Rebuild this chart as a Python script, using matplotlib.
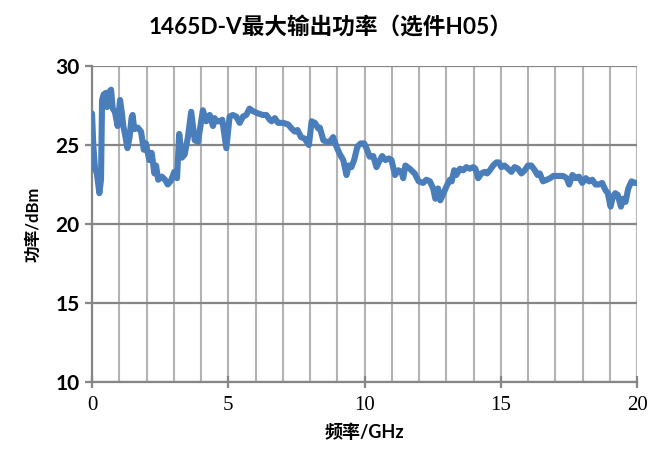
import matplotlib
matplotlib.use("Agg")
import matplotlib.pyplot as plt
from matplotlib.ticker import MultipleLocator

plt.rcParams['font.family'] = ['Lato', 'Noto Sans CJK SC', 'DejaVu Sans']

title = "1465D-V最大输出功率（选件H05）"
xlabel = "频率/GHz"
ylabel = "功率/dBm"

freq_ghz = [0.0, 0.05, 0.11, 0.18, 0.27, 0.33, 0.37, 0.43, 0.51, 0.55, 0.60, 0.70, 0.76, 0.84, 0.94,
            1.03, 1.09, 1.15, 1.22, 1.30, 1.38, 1.45, 1.49, 1.55, 1.68, 1.80, 1.90, 1.98,
            2.10, 2.19, 2.29, 2.35, 2.43, 2.56, 2.68, 2.78, 2.90, 3.02, 3.12, 3.20, 3.30, 3.40,
            3.52, 3.64, 3.77, 3.89, 4.07, 4.19, 4.32, 4.44, 4.50, 4.58, 4.70, 4.78, 4.93,
            5.05, 5.17, 5.29, 5.42, 5.54, 5.66, 5.78, 5.90, 6.09, 6.27, 6.40, 6.52, 6.59, 6.71,
            6.83, 7.02, 7.20, 7.32, 7.44, 7.54, 7.67, 7.81, 7.96, 8.06, 8.18, 8.30, 8.36, 8.49,
            8.61, 8.73, 8.85, 8.97, 9.10, 9.22, 9.34, 9.42, 9.52, 9.62, 9.74, 9.86, 9.99,
            10.07, 10.19, 10.32, 10.44, 10.52, 10.65, 10.77, 10.90, 10.99, 11.12, 11.24, 11.36,
            11.42, 11.50, 11.66, 11.84, 11.99, 12.15, 12.27, 12.40, 12.52, 12.60, 12.70, 12.78,
            12.89, 13.00, 13.13, 13.20, 13.29, 13.37, 13.50, 13.62, 13.74, 13.86, 13.99, 14.07,
            14.17, 14.29, 14.41, 14.50, 14.60, 14.72, 14.84, 14.93, 15.02, 15.14, 15.27, 15.39,
            15.51, 15.63, 15.76, 15.88, 16.00, 16.12, 16.25, 16.35, 16.43, 16.55, 16.69, 16.81,
            16.93, 17.11, 17.29, 17.42, 17.51, 17.63, 17.75, 17.87, 17.99, 18.12, 18.24, 18.36,
            18.48, 18.60, 18.72, 18.84, 18.93, 19.03, 19.11, 19.20, 19.29, 19.41, 19.49, 19.58,
            19.68, 19.80, 19.92, 20.0]

power_dbm = [27.0, 24.9, 23.5, 23.2, 21.95, 22.8, 27.85, 28.2, 28.3, 27.4, 28.3, 28.5, 27.3, 27.1, 26.2,
             27.85, 27.1, 26.2, 25.6, 24.8, 25.5, 26.7, 26.9, 26.0, 26.1, 25.85, 24.7, 25.1,
             24.05, 24.5, 23.2, 23.7, 22.8, 23.0, 22.8, 22.5, 22.75, 23.3, 22.9, 25.7, 24.2, 24.4,
             25.5, 27.1, 25.3, 25.2, 27.2, 26.5, 26.9, 26.2, 26.7, 26.5, 26.5, 26.6, 24.8,
             26.8, 26.9, 26.8, 26.4, 26.8, 26.9, 27.3, 27.15, 27.0, 26.9, 26.9, 26.6, 26.5, 26.7,
             26.4, 26.4, 26.3, 26.05, 25.85, 25.95, 25.5, 25.4, 25.0, 26.5, 26.4, 26.05, 26.1, 25.3,
             25.2, 25.2, 25.5, 24.9, 24.4, 24.05, 23.1, 23.7, 23.6, 24.05, 24.9, 25.1, 25.1,
             24.8, 24.26, 24.3, 23.6, 23.9, 24.3, 24.05, 24.15, 24.05, 23.1, 23.4, 23.3,
             22.9, 23.7, 23.5, 23.2, 22.7, 22.6, 22.8, 22.7, 22.25, 21.6, 22.25, 21.5,
             21.9, 22.35, 22.8, 22.7, 23.4, 23.1, 23.5, 23.4, 23.6, 23.5, 23.6, 23.5,
             22.9, 23.2, 23.3, 23.2, 23.4, 23.7, 23.9, 23.9, 23.6, 23.7, 23.5, 23.3,
             23.6, 23.5, 23.2, 23.4, 23.7, 23.7, 23.4, 23.1, 23.2, 22.7, 22.8, 22.9,
             23.04, 23.04, 23.04, 22.9, 22.5, 23.1, 22.9, 23.0, 22.6, 22.9, 22.7, 22.8,
             22.5, 22.5, 22.6, 22.15, 21.95, 21.1, 21.7, 21.95, 21.85, 21.1, 21.6, 21.4,
             22.25, 22.7, 22.6, 22.6]

x_ticks = [0, 5, 10, 15, 20]
y_ticks = [10, 15, 20, 25, 30]

fig = plt.figure(figsize=(6.65, 4.65), dpi=100)
ax = fig.add_axes([92/665, 1 - 382/465, (637 - 92)/665, (382 - 66)/465])

ax.set_xlim(0, 20)
ax.set_ylim(10, 30)

# grid lines
for x in range(0, 21):
    ax.axvline(x, color='#b3b3b3', lw=1.5, zorder=1)
for y in y_ticks:
    ax.axhline(y, color='#868686', lw=1.6, zorder=1.5)

ax.plot(freq_ghz, power_dbm, color='#4a7ebb', lw=4.4, solid_joinstyle='round',
        solid_capstyle='round', zorder=3)

for s in ['top', 'right']:
    ax.spines[s].set_visible(False)
for s in ['left', 'bottom']:
    ax.spines[s].set_color('#868686')
    ax.spines[s].set_linewidth(1.6)

ax.set_xticks(x_ticks)
ax.set_yticks(y_ticks)
ax.xaxis.set_minor_locator(MultipleLocator(1))
ax.tick_params(axis='x', which='major', direction='inout', length=8, width=1.6, color='#868686', pad=6)
ax.tick_params(axis='x', which='minor', direction='in', length=0)
ax.tick_params(axis='y', which='major', direction='out', length=5, width=1.6, color='#868686', pad=4)

for lab in ax.get_xticklabels():
    lab.set_fontfamily('Liberation Serif')
    lab.set_fontsize(15)
for lab in ax.get_yticklabels():
    lab.set_fontfamily(['Lato', 'DejaVu Sans'])
    lab.set_fontweight('bold')
    lab.set_fontsize(15)

ax.set_xlabel(xlabel, fontsize=13, fontweight='bold',
              family=['Lato', 'Noto Sans CJK SC'], labelpad=6)
ax.set_ylabel(ylabel, fontsize=12, fontweight='bold',
              family=['Lato', 'Noto Sans CJK SC'], labelpad=10)

fig.text(330/665, 1 - 27/465, title, ha='center', va='center', fontsize=16.3,
         fontweight='bold', family=['Lato', 'Noto Sans CJK SC'])

fig.savefig('out.png', dpi=100)
